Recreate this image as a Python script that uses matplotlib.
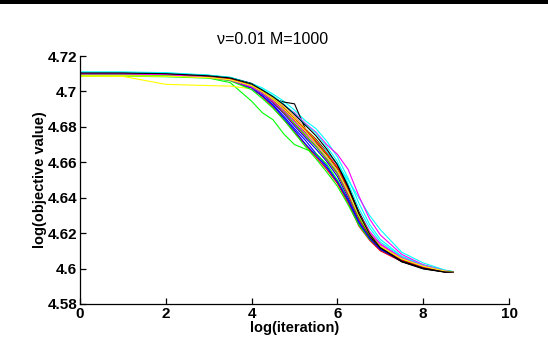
import matplotlib
matplotlib.use("Agg")
import matplotlib.pyplot as plt
from matplotlib.patches import Rectangle

title = "ν=0.01 M=1000"
xlabel = "log(iteration)"
ylabel = "log(objective value)"
xticks = [0, 2, 4, 6, 8, 10]
yticks = [4.58, 4.60, 4.62, 4.64, 4.66, 4.68, 4.70, 4.72]
ytick_labels = ["4.58", "4.6", "4.62", "4.64", "4.66", "4.68", "4.7", "4.72"]

log_iter = [0, 1, 2, 3, 3.5, 4, 4.25, 4.5, 4.75, 5, 5.25, 5.5, 5.75, 6, 6.25, 6.5, 6.75, 7, 7.5, 8, 8.5, 8.7]

run01 = [4.7100, 4.7100, 4.7096, 4.7082, 4.7065, 4.7015, 4.6975, 4.6925, 4.6860, 4.6790, 4.6725, 4.6650, 4.6580, 4.6490, 4.6380, 4.6250, 4.6165, 4.6105, 4.6040, 4.6004, 4.5982, 4.5980]
run02 = [4.7086, 4.7086, 4.7083, 4.7075, 4.7050, 4.6945, 4.6880, 4.6840, 4.6760, 4.6700, 4.6675, 4.6650, 4.6590, 4.6500, 4.6390, 4.6260, 4.6170, 4.6110, 4.6045, 4.6008, 4.5984, 4.5980]
run03 = [4.7104, 4.7103, 4.7099, 4.7084, 4.7066, 4.7020, 4.6970, 4.6910, 4.6840, 4.6770, 4.6700, 4.6630, 4.6560, 4.6480, 4.6370, 4.6240, 4.6160, 4.6100, 4.6040, 4.6004, 4.5982, 4.5980]
run04 = [4.7110, 4.7110, 4.7106, 4.7092, 4.7080, 4.7045, 4.7020, 4.6985, 4.6945, 4.6895, 4.6835, 4.6790, 4.6720, 4.6630, 4.6510, 4.6370, 4.6250, 4.6165, 4.6070, 4.6020, 4.5990, 4.5982]
run05 = [4.7101, 4.7101, 4.7097, 4.7080, 4.7062, 4.7030, 4.6998, 4.6960, 4.6910, 4.6860, 4.6790, 4.6720, 4.6650, 4.6570, 4.6460, 4.6320, 4.6210, 4.6140, 4.6062, 4.6016, 4.5988, 4.5981]
run06 = [4.7087, 4.7085, 4.7040, 4.7033, 4.7030, 4.7015, 4.6990, 4.6955, 4.6900, 4.6840, 4.6770, 4.6710, 4.6640, 4.6560, 4.6440, 4.6300, 4.6195, 4.6130, 4.6058, 4.6014, 4.5987, 4.5981]
run07 = [4.7105, 4.7105, 4.7101, 4.7090, 4.7078, 4.7045, 4.7005, 4.6960, 4.6940, 4.6930, 4.6790, 4.6730, 4.6660, 4.6590, 4.6470, 4.6320, 4.6200, 4.6120, 4.6040, 4.6000, 4.5981, 4.5980]
run08 = [4.7099, 4.7099, 4.7095, 4.7083, 4.7068, 4.7025, 4.6985, 4.6935, 4.6875, 4.6805, 4.6740, 4.6675, 4.6605, 4.6520, 4.6400, 4.6270, 4.6175, 4.6110, 4.6045, 4.6006, 4.5983, 4.5980]
run09 = [4.7091, 4.7091, 4.7088, 4.7078, 4.7060, 4.7010, 4.6960, 4.6905, 4.6840, 4.6765, 4.6690, 4.6620, 4.6545, 4.6465, 4.6360, 4.6245, 4.6165, 4.6115, 4.6052, 4.6012, 4.5986, 4.5981]
run10 = [4.7105, 4.7105, 4.7100, 4.7086, 4.7070, 4.7028, 4.6990, 4.6940, 4.6880, 4.6815, 4.6750, 4.6690, 4.6615, 4.6535, 4.6415, 4.6280, 4.6180, 4.6115, 4.6045, 4.6004, 4.5982, 4.5980]
run11 = [4.7106, 4.7106, 4.7102, 4.7090, 4.7077, 4.7040, 4.7005, 4.6960, 4.6905, 4.6845, 4.6785, 4.6720, 4.6660, 4.6590, 4.6500, 4.6400, 4.6300, 4.6220, 4.6092, 4.6032, 4.5992, 4.5983]
run12 = [4.7100, 4.7100, 4.7096, 4.7086, 4.7074, 4.7040, 4.7005, 4.6965, 4.6920, 4.6880, 4.6820, 4.6770, 4.6700, 4.6645, 4.6560, 4.6410, 4.6280, 4.6190, 4.6080, 4.6022, 4.5988, 4.5981]
run13 = [4.7090, 4.7090, 4.7088, 4.7080, 4.7068, 4.7038, 4.7005, 4.6965, 4.6915, 4.6855, 4.6790, 4.6725, 4.6650, 4.6565, 4.6445, 4.6310, 4.6200, 4.6130, 4.6058, 4.6014, 4.5987, 4.5981]
run14 = [4.7104, 4.7104, 4.7100, 4.7087, 4.7074, 4.7032, 4.6995, 4.6950, 4.6895, 4.6835, 4.6770, 4.6710, 4.6640, 4.6560, 4.6440, 4.6295, 4.6185, 4.6115, 4.6038, 4.5998, 4.5980, 4.5979]
run15 = [4.7102, 4.7102, 4.7098, 4.7085, 4.7068, 4.7020, 4.6975, 4.6920, 4.6850, 4.6780, 4.6705, 4.6640, 4.6570, 4.6490, 4.6385, 4.6260, 4.6170, 4.6110, 4.6045, 4.6007, 4.5983, 4.5980]
run16 = [4.7093, 4.7093, 4.7090, 4.7081, 4.7066, 4.7028, 4.6990, 4.6945, 4.6885, 4.6820, 4.6755, 4.6690, 4.6620, 4.6540, 4.6425, 4.6290, 4.6190, 4.6125, 4.6052, 4.6012, 4.5987, 4.5982]
run17 = [4.7103, 4.7103, 4.7099, 4.7086, 4.7072, 4.7035, 4.7000, 4.6955, 4.6905, 4.6845, 4.6785, 4.6720, 4.6650, 4.6570, 4.6450, 4.6305, 4.6195, 4.6120, 4.6048, 4.6008, 4.5984, 4.5980]
run18 = [4.7108, 4.7108, 4.7104, 4.7091, 4.7079, 4.7042, 4.7012, 4.6975, 4.6930, 4.6875, 4.6815, 4.6765, 4.6690, 4.6605, 4.6480, 4.6340, 4.6230, 4.6150, 4.6068, 4.6018, 4.5989, 4.5982]
run19 = [4.7099, 4.7099, 4.7095, 4.7079, 4.7064, 4.7025, 4.6990, 4.6945, 4.6890, 4.6830, 4.6765, 4.6700, 4.6630, 4.6550, 4.6430, 4.6300, 4.6200, 4.6135, 4.6060, 4.6015, 4.5987, 4.5981]
run20 = [4.7088, 4.7088, 4.7086, 4.7078, 4.7066, 4.7033, 4.6998, 4.6955, 4.6900, 4.6840, 4.6775, 4.6705, 4.6635, 4.6555, 4.6435, 4.6300, 4.6195, 4.6125, 4.6055, 4.6013, 4.5986, 4.5981]
run21 = [4.7104, 4.7104, 4.7100, 4.7088, 4.7076, 4.7042, 4.7008, 4.6970, 4.6925, 4.6870, 4.6810, 4.6750, 4.6675, 4.6585, 4.6460, 4.6310, 4.6195, 4.6118, 4.6042, 4.6002, 4.5981, 4.5980]

runs = [run01, run02, run03, run04, run05, run06, run07, run08, run09, run10, run11,
        run12, run13, run14, run15, run16, run17, run18, run19, run20, run21]
colors = ["#0000ff", "#00ff00", "#ff0000", "#00ffff", "#ff00ff", "#ffff00", "#000000"]

plt.rcParams['font.family'] = ['Liberation Sans', 'DejaVu Sans']

fig = plt.figure(figsize=(5.48, 3.38), dpi=100)
fig.patches.append(Rectangle((0, 334/338), 1, 4/338, transform=fig.transFigure,
                             facecolor='black', edgecolor='none'))
ax = fig.add_axes([80/548, 34/338, 429/548, 248/338])

for i, r in enumerate(runs):
    ax.plot(log_iter, r, color=colors[i % 7], lw=0.8)

ax.set_xlim(0, 10)
ax.set_ylim(4.58, 4.72)
ax.set_xticks(xticks)
ax.set_yticks(yticks)
ax.set_yticklabels(ytick_labels)
for s in ['top', 'right']:
    ax.spines[s].set_visible(False)
for s in ['left', 'bottom']:
    ax.spines[s].set_linewidth(0.9)
ax.tick_params(direction='in', length=4, width=0.9, pad=2, labelsize=11)
for lab in ax.get_xticklabels() + ax.get_yticklabels():
    lab.set_fontweight('bold')

ax.set_xlabel(xlabel, fontsize=10.5, fontweight='bold')
ax.xaxis.label.set_va('center')
ax.xaxis.set_label_coords(0.5, -0.097)
ax.set_ylabel(ylabel, fontsize=10.5, fontweight='bold')
ax.yaxis.label.set_va('center')
ax.yaxis.set_label_coords(-0.093, 0.5)
ax.text(0.45, 1.066, title, transform=ax.transAxes, ha='center', va='center', fontsize=11.5)

fig.savefig("out.png", dpi=100)
